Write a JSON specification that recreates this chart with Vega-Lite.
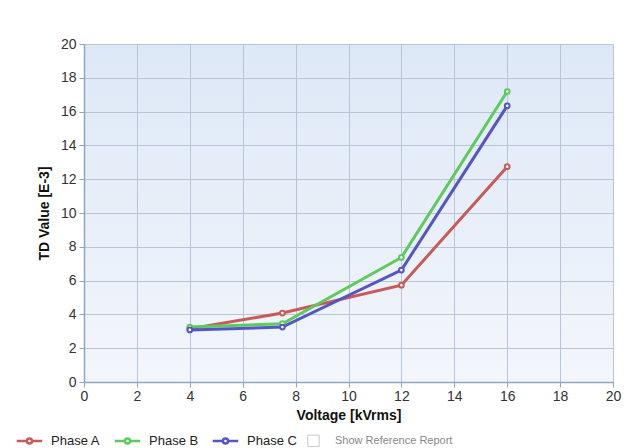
{
  "$schema": "https://vega.github.io/schema/vega-lite/v6.json",
  "width": 529,
  "height": 338,
  "autosize": {"type": "none"},
  "padding": {"left": 84, "top": 44, "right": 29, "bottom": 66},
  "background": "white",
  "config": {
    "font": "Liberation Sans",
    "view": {
      "stroke": null,
      "fill": {"gradient": "linear", "x1": 0, "y1": 0, "x2": 0, "y2": 1,
        "stops": [{"offset": 0, "color": "#dde8f7"}, {"offset": 1, "color": "#f3f6fb"}]}
    },
    "axis": {
      "labelFont": "Liberation Sans",
      "labelFontSize": 14,
      "labelColor": "#333333",
      "titleFont": "Liberation Sans",
      "titleFontSize": 14,
      "titleFontWeight": "bold",
      "titleColor": "#111111",
      "gridColor": "#b9c5d6",
      "gridOpacity": 1,
      "gridWidth": 1,
      "domainColor": "#8fa6c0",
      "domainWidth": 1.5,
      "tickColor": "#8fa6c0",
      "tickSize": 5
    }
  },
  "data": {
    "values": [
      {"phase": "Phase A", "v": 4, "td": 3.15},
      {"phase": "Phase A", "v": 7.5, "td": 4.08},
      {"phase": "Phase A", "v": 12, "td": 5.73},
      {"phase": "Phase A", "v": 16, "td": 12.74},
      {"phase": "Phase B", "v": 4, "td": 3.25},
      {"phase": "Phase B", "v": 7.5, "td": 3.45},
      {"phase": "Phase B", "v": 12, "td": 7.37},
      {"phase": "Phase B", "v": 16, "td": 17.19},
      {"phase": "Phase C", "v": 4, "td": 3.08},
      {"phase": "Phase C", "v": 7.5, "td": 3.25},
      {"phase": "Phase C", "v": 12, "td": 6.62},
      {"phase": "Phase C", "v": 16, "td": 16.34}
    ]
  },
  "mark": {"type": "line", "strokeWidth": 3, "point": {"filled": false, "fill": "white", "size": 22, "strokeWidth": 2}},
  "encoding": {
    "x": {
      "field": "v", "type": "quantitative", "title": "Voltage [kVrms]",
      "scale": {"domain": [0, 20], "nice": false},
      "axis": {"values": [0, 2, 4, 6, 8, 10, 12, 14, 16, 18, 20], "labelPadding": 2, "titlePadding": 5, "labelFlush": false}
    },
    "y": {
      "field": "td", "type": "quantitative", "title": "TD Value [E-3]",
      "scale": {"domain": [0, 20], "nice": false},
      "axis": {"values": [0, 2, 4, 6, 8, 10, 12, 14, 16, 18, 20], "labelPadding": 3, "titlePadding": 9}
    },
    "color": {
      "field": "phase", "type": "nominal",
      "scale": {
        "domain": ["Phase A", "Phase B", "Phase C", "Show Reference Report"],
        "range": ["#c85a5a", "#5ccb5c", "#5555c4", "#c8c8c8"]
      },
      "legend": {
        "title": null,
        "orient": "none",
        "legendX": -61,
        "legendY": 390,
        "direction": "horizontal",
        "symbolType": "M-1,0H-0.2M0.2,0H1M0.2,0A0.2,0.2,0,1,1,-0.2,0A0.2,0.2,0,1,1,0.2,0",
        "symbolSize": 650,
        "symbolStrokeWidth": 2.5,
        "symbolFillColor": "white",
        "labelFontSize": 13,
        "labelColor": "#222222",
        "labelOffset": 15,
        "columnPadding": 8,
        "encode": {
          "symbols": {"update": {
            "shape": {"signal": "datum.value === 'Show Reference Report' ? 'square' : 'M-1,0H-0.2M0.2,0H1M0.2,0A0.2,0.2,0,1,1,-0.2,0A0.2,0.2,0,1,1,0.2,0'"},
            "size": {"signal": "datum.value === 'Show Reference Report' ? 130 : 650"},
            "strokeWidth": {"signal": "datum.value === 'Show Reference Report' ? 1 : 2.5"}
          }},
          "labels": {"update": {
            "fill": {"signal": "datum.value === 'Show Reference Report' ? '#888888' : '#222222'"},
            "fontSize": {"signal": "datum.value === 'Show Reference Report' ? 11 : 13"}
          }}
        }
      }
    }
  }
}
